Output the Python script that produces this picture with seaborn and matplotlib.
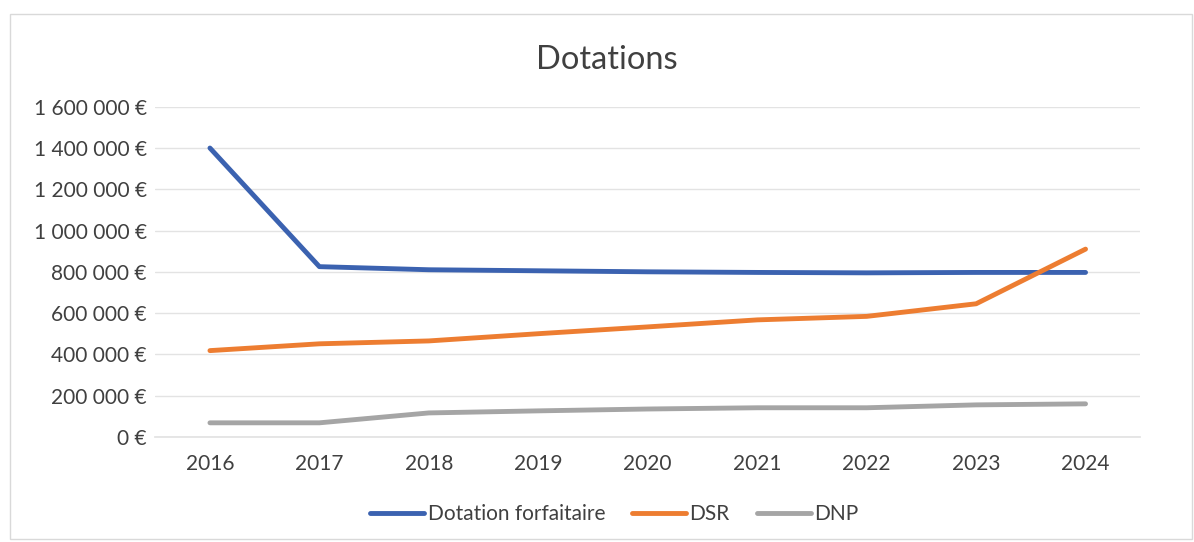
import numpy as np
import pandas as pd
import matplotlib
matplotlib.use("Agg")
import matplotlib.pyplot as plt
import seaborn as sns
from matplotlib.ticker import FuncFormatter

years = ["2016", "2017", "2018", "2019", "2020", "2021", "2022", "2023", "2024"]
dotation_forfaitaire = [1400000, 825000, 810000, 805000, 800000, 797000, 795000, 797000, 797000]
dsr = [418000, 451000, 465000, 500000, 533000, 567000, 584000, 645000, 910000]
dnp = [68000, 68000, 116000, 126000, 135000, 141000, 141000, 155000, 160000]
series_names = ["Dotation forfaitaire", "DSR", "DNP"]
colors = ["#3B62B0", "#ED7D31", "#A5A5A5"]

df = pd.DataFrame({
    "Année": years * 3,
    "Valeur": dotation_forfaitaire + dsr + dnp,
    "Série": [series_names[0]] * len(years) + [series_names[1]] * len(years) + [series_names[2]] * len(years),
})

sns.set_theme(style="white")
plt.rcParams["font.family"] = ["Lato", "DejaVu Sans"]

fig = plt.figure(figsize=(11.94, 5.42), dpi=100)
ax = fig.add_axes([0.130, 0.194, 0.825, 0.609])

sns.lineplot(data=df, x="Année", y="Valeur", hue="Série", palette=colors,
             linewidth=3.5, ax=ax, legend=True, sort=False)

ax.set_xlim(-0.5, len(years) - 0.5)
ax.set_ylim(0, 1600000)
ax.set_yticks(np.arange(0, 1600001, 200000))

def fmt(v, pos):
    s = f"{int(round(v)):,}".replace(",", " ")
    return f"{s} €"

ax.yaxis.set_major_formatter(FuncFormatter(fmt))
ax.grid(axis="y", color="#E3E3E3", linewidth=1)
ax.set_axisbelow(True)
for s in ["top", "right", "left"]:
    ax.spines[s].set_visible(False)
ax.spines["bottom"].set_color("#E3E3E3")
ax.set_xlabel("")
ax.set_ylabel("")
ax.tick_params(axis="both", length=0, labelsize=15, colors="#404040")
ax.tick_params(axis="x", pad=12)
ax.tick_params(axis="y", pad=6)

fig.text(0.508, 0.89, "Dotations", ha="center", va="center", fontsize=23.5, color="#404040")

leg = ax.legend(loc="center", bbox_to_anchor=(0.466, -0.235), ncol=3, frameon=False,
                fontsize=15, handlelength=2.6, handletextpad=0.15, columnspacing=1.3)
for t in leg.get_texts():
    t.set_color("#404040")
for h in leg.get_lines():
    h.set_linewidth(3.5)

border = plt.Rectangle((0.008, 0.005), 0.99, 0.97, transform=fig.transFigure, fill=False,
                       edgecolor="#D9D9D9", linewidth=1)
fig.add_artist(border)

fig.savefig("out.png", dpi=100, facecolor="white")
